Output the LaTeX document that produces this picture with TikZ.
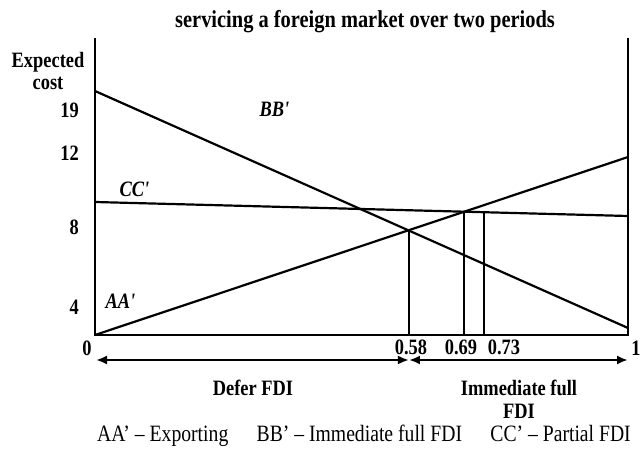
\documentclass[tikz,border=0pt]{standalone}
\usepackage{fontspec}
\setmainfont{Liberation Serif}[FakeStretch=0.84]
\usetikzlibrary{positioning,calc,arrows.meta}

\tikzset{
    lbl/.style={font=\fontsize{22}{23}\selectfont\bfseries, inner sep=1pt},
    curvelbl/.style={font=\fontsize{22}{23}\selectfont\bfseries\itshape, inner sep=1pt},
    cline/.style={line width=2.2bp},
    twoarrow/.style={line width=2.6bp, {Latex[length=11bp,width=9bp]}-{Latex[length=11bp,width=9bp]}}
}

\begin{document}
\begin{tikzpicture}[x=1bp,y=-1bp]
    \useasboundingbox (0,0) rectangle (640,454);

    % axes
    \coordinate (O) at (95,335);
    \coordinate (T) at (95,38);
    \coordinate (R) at (628,335);
    \coordinate (RT) at (628,38);
    \draw[cline] (T) -- (O) -- (R) -- (RT);

    % cost lines
    \coordinate (A0) at (95,335); \coordinate (A1) at (628,157);
    \coordinate (B0) at (95,91);  \coordinate (B1) at (628,328);
    \coordinate (C0) at (95,202); \coordinate (C1) at (628,216);
    \draw[cline] (A0) -- (A1);
    \draw[cline] (B0) -- (B1);
    \draw[cline] (C0) -- (C1);

    % switch points
    \coordinate (P58) at ($(A0)!0.589!(A1)$);
    \coordinate (P69) at ($(A0)!0.6927!(A1)$);
    \coordinate (P73) at ($(C0)!0.73!(C1)$);
    \foreach \p in {P58,P69,P73} \draw[cline] (\p) -- (\p |- O);

    \node[lbl, font=\fontsize{24.4}{28}\selectfont\bfseries] (title) at (365,22) {servicing a foreign market over two periods};
    \node[lbl, align=center] (ylab) at (48,71) {Expected\\cost};
    \node[lbl, anchor=east] (t19) at (80,110) {19};
    \node[lbl, anchor=east] (t12) at (80,153) {12};
    \node[lbl, anchor=east] (t8) at (80,227) {8};
    \node[lbl, anchor=east] (t4) at (80,307) {4};

    \node[curvelbl] (BBl) at (275,109) {BB\textquotesingle};
    \node[curvelbl] (CCl) at (135,189) {CC\textquotesingle};
    \node[curvelbl] (AAl) at (121,301) {AA\textquotesingle};

    \node[lbl] (x0) at (87,348) {0};
    \node[lbl] (x58) at (411,347) {0.58};
    \node[lbl] (x69) at (461,347) {0.69};
    \node[lbl] (x73) at (504,347) {0.73};
    \node[lbl] (x1) at (636,348) {1};

    % regions
    \coordinate (L0) at (96,360);
    \coordinate (LM) at (P58 |- L0);
    \coordinate (L1) at (628,360);
    \draw[twoarrow] (L0) -- (LM);
    \draw[twoarrow] (LM) -- (L1);

    \node[lbl] (defer) at (253,388) {Defer FDI};
    \node[lbl, align=center] (immed) at (519,399) {Immediate full\\FDI};

    \node[font=\fontsize{23.5}{26}\selectfont] (legend) at (364,436)
        {AA' -- Exporting\quad\ BB' -- Immediate full FDI\quad\ CC' -- Partial FDI};
\end{tikzpicture}
\end{document}
